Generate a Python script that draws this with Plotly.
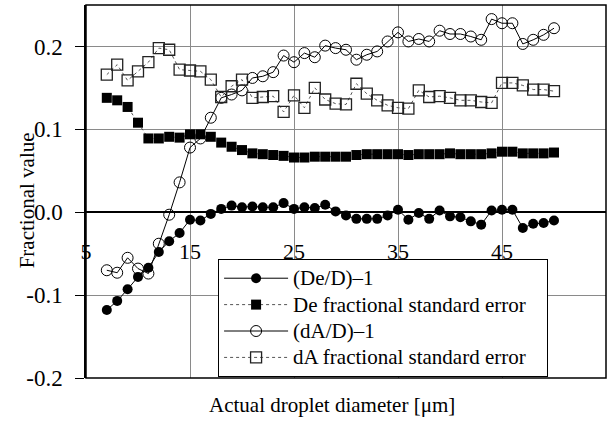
import plotly.graph_objects as go

# Actual droplet diameter [um]
diameter = list(range(7, 51))

# (De/D)-1
de_rel = [-0.118, -0.107, -0.093, -0.078, -0.067, -0.048, -0.035, -0.025, -0.009, -0.010,
          -0.002, 0.004, 0.008, 0.006, 0.007, 0.006, 0.006, 0.011, 0.004, 0.006,
          0.005, 0.009, 0.001, -0.004, -0.008, -0.008, -0.008, -0.004, 0.003, -0.009,
          -0.001, -0.008, 0.002, -0.005, -0.006, -0.011, -0.015, 0.002, 0.003, 0.003,
          -0.019, -0.014, -0.013, -0.010]

# De fractional standard error
de_err = [0.138, 0.135, 0.127, 0.108, 0.089, 0.089, 0.091, 0.090, 0.094, 0.094,
          0.091, 0.084, 0.079, 0.075, 0.071, 0.070, 0.069, 0.068, 0.066, 0.066,
          0.067, 0.067, 0.067, 0.067, 0.069, 0.070, 0.070, 0.070, 0.070, 0.069,
          0.070, 0.070, 0.070, 0.071, 0.070, 0.070, 0.070, 0.071, 0.073, 0.073,
          0.071, 0.071, 0.071, 0.072]

# (dA/D)-1
da_rel = [-0.070, -0.073, -0.055, -0.068, -0.074, -0.038, -0.003, 0.036, 0.078, 0.089,
          0.114, 0.138, 0.142, 0.147, 0.162, 0.164, 0.169, 0.189, 0.181, 0.192,
          0.187, 0.201, 0.198, 0.196, 0.184, 0.190, 0.194, 0.206, 0.217, 0.206,
          0.209, 0.206, 0.219, 0.215, 0.215, 0.212, 0.208, 0.233, 0.228, 0.228,
          0.203, 0.208, 0.214, 0.222]

# dA fractional standard error
da_err = [0.166, 0.178, 0.159, 0.170, 0.181, 0.198, 0.196, 0.172, 0.171, 0.170,
          0.160, 0.139, 0.152, 0.160, 0.138, 0.139, 0.140, 0.121, 0.141, 0.126,
          0.150, 0.136, 0.131, 0.130, 0.155, 0.143, 0.135, 0.129, 0.126, 0.125,
          0.147, 0.139, 0.140, 0.138, 0.135, 0.135, 0.133, 0.132, 0.156, 0.156,
          0.153, 0.148, 0.148, 0.146]

x_ticks = [5, 15, 25, 35, 45, 55]
x_ticktext = ["5", "15", "25", "35", "45", "55"]
y_ticks = [-0.2, -0.1, 0.0, 0.1, 0.2]
y_ticktext = ["-0.2", "-0.1", "0.0", "0.1", "0.2"]

SERIF = "Liberation Serif, Times New Roman, serif"


def legend_label(text, pad=0):
    # legend rows are spaced by the small legend font; the label itself is drawn larger
    return '<span style="font-size:21px">%s%s</span>' % (text, "\u00a0" * pad)


fig = go.Figure()

fig.add_trace(go.Scatter(
    x=diameter, y=de_rel, name=legend_label("(De/D)\u20131"), mode="lines+markers",
    line=dict(color="black", width=1),
    marker=dict(symbol="circle", size=10, color="black"),
))
fig.add_trace(go.Scatter(
    x=diameter, y=de_err, name=legend_label("De fractional standard error", 3),
    mode="lines+markers",
    line=dict(color="#555", width=1, dash="dot"),
    marker=dict(symbol="square", size=10, color="black"),
))
fig.add_trace(go.Scatter(
    x=diameter, y=da_rel, name=legend_label("(dA/D)\u20131"), mode="lines+markers",
    line=dict(color="black", width=1),
    marker=dict(symbol="circle-open", size=11, color="black", line=dict(width=1)),
))
fig.add_trace(go.Scatter(
    x=diameter, y=da_err, name=legend_label("dA fractional standard error", 3),
    mode="lines+markers",
    line=dict(color="#555", width=1, dash="dot"),
    marker=dict(symbol="square-open", size=11, color="#222", line=dict(width=1.3)),
))

fig.update_layout(
    width=616, height=421,
    margin=dict(l=86, r=10, t=5, b=43),
    paper_bgcolor="white", plot_bgcolor="white",
    font=dict(family=SERIF, color="black", size=20),
    showlegend=True,
    legend=dict(
        x=0.254, y=0.319, xanchor="left", yanchor="top",
        bgcolor="white", bordercolor="black", borderwidth=1,
        font=dict(family=SERIF, size=18, color="black"),
        tracegroupgap=0, itemwidth=64,
    ),
    xaxis=dict(
        range=[5, 55], tickvals=x_ticks, ticktext=x_ticktext,
        anchor="free", position=0.4444,
        showgrid=True, gridcolor="#8a8a8a", gridwidth=1,
        showline=False, zeroline=False, ticks="",
        ticklabelstandoff=24,
        tickfont=dict(family=SERIF, size=22, color="black"),
    ),
    yaxis=dict(
        range=[-0.2, 0.25], tickvals=y_ticks, ticktext=y_ticktext,
        showgrid=True, gridcolor="#8a8a8a", gridwidth=1,
        zeroline=True, zerolinecolor="black", zerolinewidth=1.5,
        showline=True, linecolor="black", linewidth=1.5,
        ticks="outside", ticklen=9, tickcolor="black", tickwidth=1.2,
        ticklabelstandoff=8,
        tickfont=dict(family=SERIF, size=23, color="black"),
    ),
    shapes=[dict(type="rect", xref="paper", yref="paper", x0=0, y0=0, x1=1, y1=1,
                 line=dict(color="black", width=1.5), layer="above")],
    annotations=[
        dict(text="Actual droplet diameter [\u03bcm]", xref="paper", yref="paper",
             x=0.473, y=-0.072, xanchor="center", yanchor="middle", showarrow=False,
             font=dict(family=SERIF, size=21, color="black")),
        dict(text="Fractional value", xref="paper", yref="paper", textangle=-90,
             x=-0.113, y=0.477, xanchor="center", yanchor="middle", showarrow=False,
             font=dict(family=SERIF, size=21, color="black")),
    ],
)

fig.write_html("out.html")
